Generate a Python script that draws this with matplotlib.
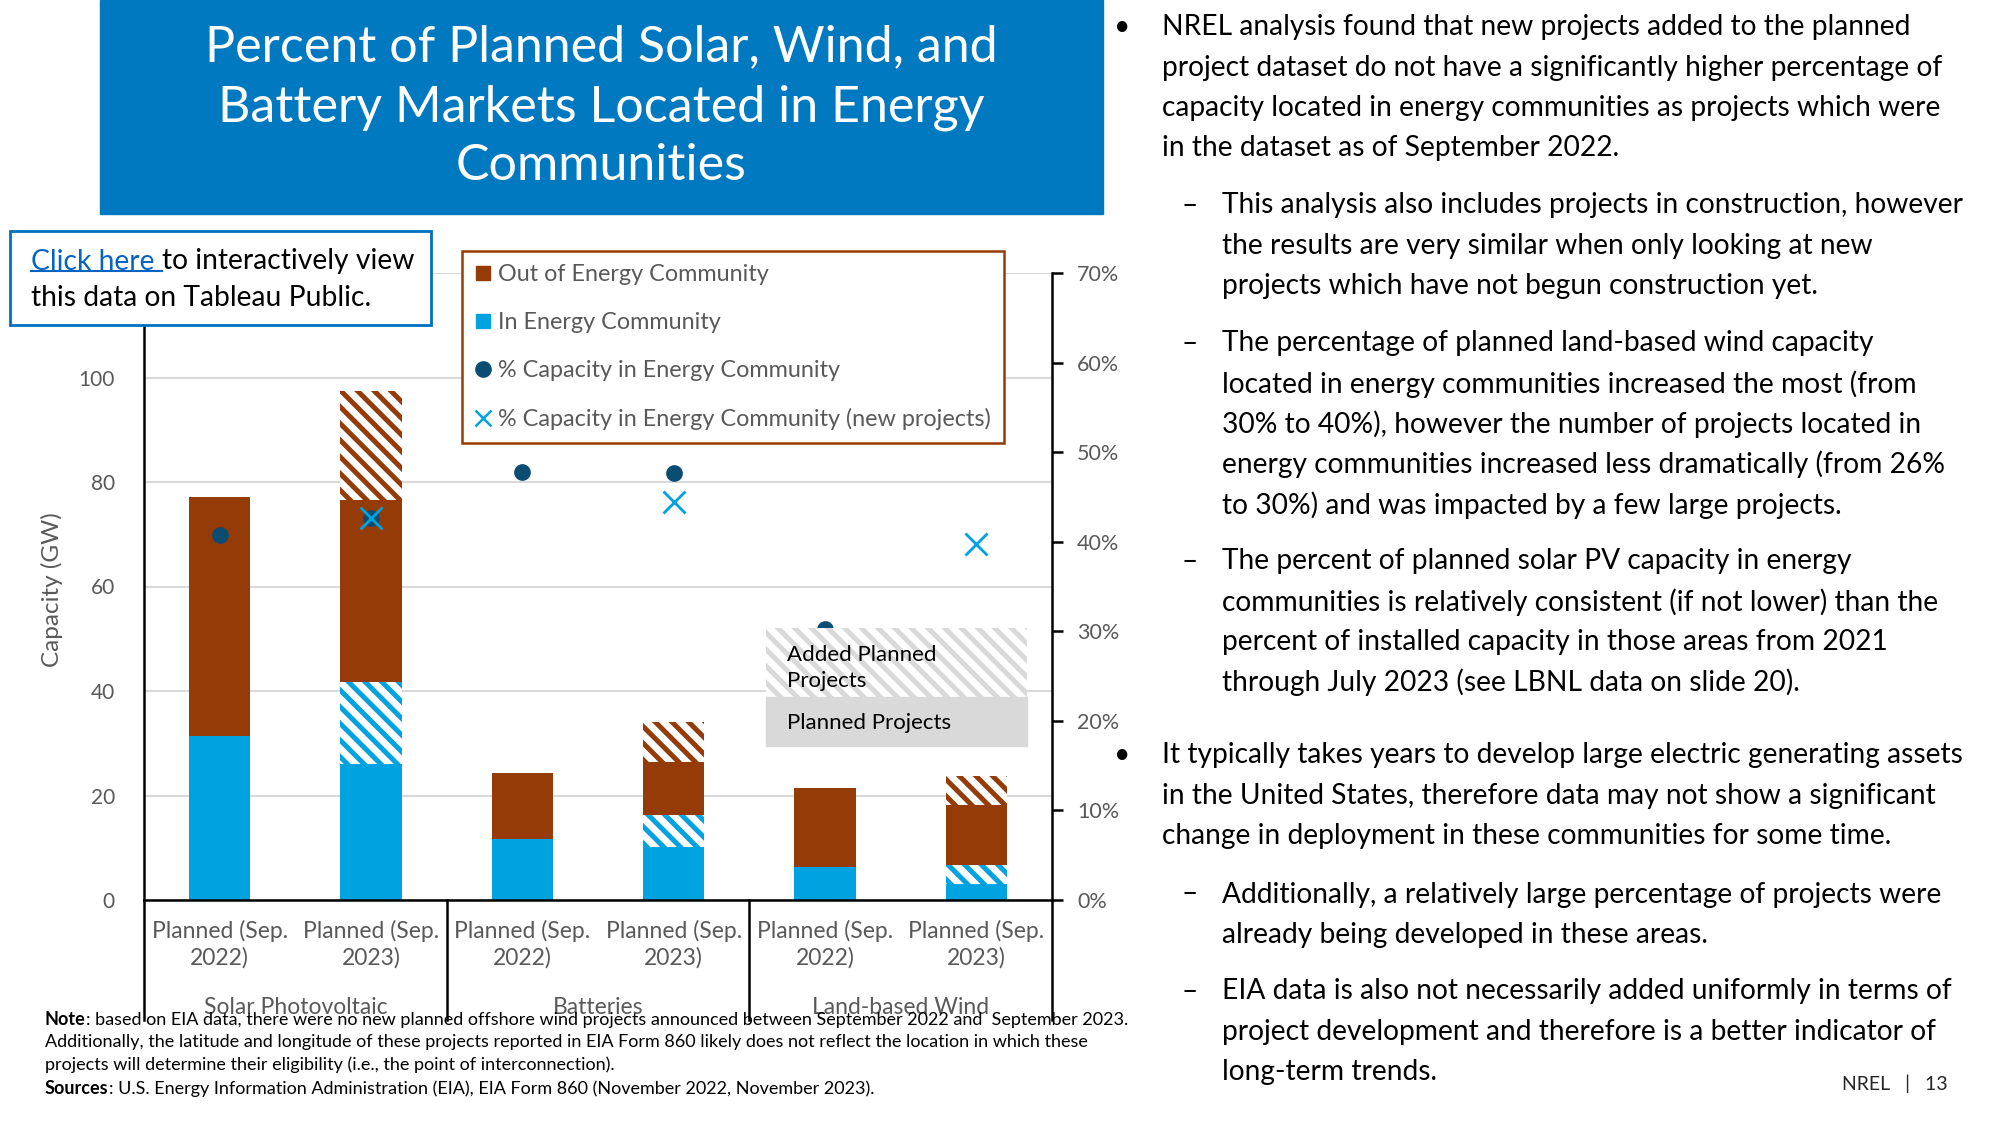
import numpy as np
import matplotlib.pyplot as plt
from matplotlib.patches import Rectangle
from matplotlib.lines import Line2D
from matplotlib.ticker import PercentFormatter
from matplotlib.transforms import blended_transform_factory

plt.rcParams['font.family'] = ['Lato', 'DejaVu Sans']
plt.rcParams['hatch.linewidth'] = 3.6

# ---- data: capacity in GW, share of capacity in energy communities ----
groups = ['Solar Photovoltaic', 'Batteries', 'Land-based Wind']
periods = ['Planned (Sep.\n2022)', 'Planned (Sep.\n2023)']
in_planned = np.array([31.3, 26.1, 11.6, 10.1, 6.3, 3.0])
in_added = np.array([0, 15.6, 0, 6.1, 0, 3.7])
out_planned = np.array([45.9, 34.8, 12.8, 10.3, 15.2, 11.5])
out_added = np.array([0, 20.9, 0, 7.6, 0, 5.6])
pct_ec = [0.408, 0.427, 0.478, 0.477, 0.303, np.nan]
pct_ec_new = [np.nan, 0.427, np.nan, 0.444, np.nan, 0.398]
left_ticks = [0, 20, 40, 60, 80, 100, 120]

legend_labels = ['Out of Energy Community', 'In Energy Community',
                 '% Capacity in Energy Community',
                 '% Capacity in Energy Community (new projects)']

title_lines = ['Percent of Planned Solar, Wind, and',
               'Battery Markets Located in Energy',
               'Communities']

# (indent level, lines)
bullets = [
    (0, ['NREL analysis found that new projects added to the planned',
         'project dataset do not have a significantly higher percentage of',
         'capacity located in energy communities as projects which were',
         'in the dataset as of September 2022.']),
    (1, ['This analysis also includes projects in construction, however',
         'the results are very similar when only looking at new',
         'projects which have not begun construction yet.']),
    (1, ['The percentage of planned land-based wind capacity',
         'located in energy communities increased the most (from',
         '30% to 40%), however the number of projects located in',
         'energy communities increased less dramatically (from 26%',
         'to 30%) and was impacted by a few large projects.']),
    (1, ['The percent of planned solar PV capacity in energy',
         'communities is relatively consistent (if not lower) than the',
         'percent of installed capacity in those areas from 2021',
         'through July 2023 (see LBNL data on slide 20).']),
    (0, ['It typically takes years to develop large electric generating assets',
         'in the United States, therefore data may not show a significant',
         'change in deployment in these communities for some time.']),
    (1, ['Additionally, a relatively large percentage of projects were',
         'already being developed in these areas.']),
    (1, ['EIA data is also not necessarily added uniformly in terms of',
         'project development and therefore is a better indicator of',
         'long-term trends.']),
]
bullet_top = [25, 203, 341, 559, 753, 892, 989]   # px from top

note_lines = [('Note', ': based on EIA data, there were no new planned offshore wind projects '
                       'announced between September 2022 and  September 2023.'),
              ('', 'Additionally, the latitude and longitude of these projects reported in EIA '
                   'Form 860 likely does not reflect the location in which these'),
              ('', 'projects will determine their eligibility (i.e., the point of interconnection).'),
              ('Sources', ': U.S. Energy Information Administration (EIA), EIA Form 860 '
                          '(November 2022, November 2023).')]

BROWN = '#943B08'
BLUE = '#00A3E0'
NAVY = '#0B4C72'
GRAY = '#595959'
GRID = '#D9D9D9'

W, H = 2000, 1125
fig = plt.figure(figsize=(20, 11.25), dpi=100)
renderer = fig.canvas.get_renderer()


def fx(px):
    return px / W


def fy(py):
    return 1 - py / H


def fit(t, width_px):
    w = t.get_window_extent(renderer).width
    t.set_fontsize(t.get_fontsize() * width_px / w)
    return t.get_fontsize()


# title banner
fig.add_artist(Rectangle((fx(100), fy(214)), fx(1003), 214 / H,
                         transform=fig.transFigure, color='#0079C1', zorder=1))
ts = None
for i, (line, y) in enumerate(zip(title_lines, [43, 103, 162])):
    t = fig.text(fx(601), fy(y), line, ha='center', va='center_baseline',
                 color='white', fontsize=30)
    if ts is None:
        ts = fit(t, 792)
    t.set_fontsize(ts)

# ---- chart ----
ax = fig.add_axes([fx(144), fy(900), fx(908), 627 / H])
x = np.arange(6)
bw = 0.405
ax.bar(x, in_planned, bw, color=BLUE, zorder=2)
ax.bar(x, in_added, bw, bottom=in_planned, facecolor='white', edgecolor=BLUE,
       hatch='\\\\', linewidth=0, zorder=2)
base = in_planned + in_added
ax.bar(x, out_planned, bw, bottom=base, color=BROWN, zorder=2)
ax.bar(x, out_added, bw, bottom=base + out_planned, facecolor='white',
       edgecolor=BROWN, hatch='\\\\', linewidth=0, zorder=2)

ax.set_xlim(-0.5, 5.5)
ax.set_ylim(0, 120)
# the 120 label sits under the "Click here" box in the slide
ax.set_yticks(left_ticks, [str(v) if v < 120 else '' for v in left_ticks])
ax.grid(axis='y', color=GRID, lw=1.5)
ax.set_axisbelow(True)
for s in ['top', 'right']:
    ax.spines[s].set_visible(False)
for s in ['left', 'bottom']:
    ax.spines[s].set_color('black')
    ax.spines[s].set_linewidth(1.8)
ax.tick_params(axis='y', length=0, pad=21, labelcolor=GRAY, labelsize=15)
ax.set_xticks(x, periods * 3)
ax.tick_params(axis='x', length=0, pad=14, labelcolor=GRAY, labelsize=16.5)
for lbl in ax.get_xticklabels():
    lbl.set_linespacing(1.3)

trans = blended_transform_factory(ax.transData, ax.transAxes)
for xs in [-0.5, 1.5, 3.5, 5.5]:
    ax.plot([xs, xs], [0, -0.191], transform=trans, color='black', lw=1.8,
            clip_on=False)
for i, g in enumerate(groups):
    ax.text(2 * i + 0.5, -0.171, g, transform=trans, ha='center', va='center',
            color=GRAY, fontsize=16.5)

ax2 = ax.twinx()
ax2.set_ylim(0, 0.7)
ax2.set_yticks(np.arange(0, 0.71, 0.1))
ax2.yaxis.set_major_formatter(PercentFormatter(1.0, decimals=0))
for s in ['top', 'left', 'bottom']:
    ax2.spines[s].set_visible(False)
ax2.spines['right'].set_color('black')
ax2.spines['right'].set_linewidth(1.8)
ax2.tick_params(axis='y', direction='out', length=8, width=1.8, pad=10,
                labelcolor=GRAY, labelsize=15.5)
ax2.plot(x, pct_ec, 'o', color=NAVY, ms=11, ls='none', zorder=3)
ax2.plot(x, pct_ec_new, 'x', color=BLUE, ms=16, mew=2, ls='none', zorder=4)

fig.text(fx(52), fy(590), 'Capacity (GW)', rotation=90, ha='center',
         va='center', color=GRAY, fontsize=17.5)

# legend
handles = [Line2D([], [], marker='s', color=BROWN, ls='none', ms=10),
           Line2D([], [], marker='s', color=BLUE, ls='none', ms=10),
           Line2D([], [], marker='o', color=NAVY, ls='none', ms=11),
           Line2D([], [], marker='x', color=BLUE, ls='none', ms=12, mew=1.8)]
leg = fig.legend(handles, legend_labels, loc='upper left',
                 bbox_to_anchor=(fx(462), fy(251)), fontsize=16.8,
                 labelcolor=GRAY, frameon=True, fancybox=False,
                 edgecolor=BROWN, framealpha=1, labelspacing=1.16,
                 handlelength=0.7, handletextpad=0.3, borderpad=0.55,
                 borderaxespad=0)
leg.get_frame().set_linewidth(1.8)
leg.set_zorder(6)

# hatched / solid key box
fig.add_artist(Rectangle((fx(766), fy(697)), fx(261), 69 / H,
                         transform=fig.transFigure, facecolor='white',
                         edgecolor=GRID, hatch='\\\\', linewidth=0, zorder=6))
fig.add_artist(Rectangle((fx(766), fy(746)), fx(261), 49 / H,
                         transform=fig.transFigure, color=GRID, zorder=6))
fig.text(fx(787), fy(668), 'Added Planned\nProjects', ha='left', va='center',
         fontsize=16, linespacing=1.4, zorder=7)
fig.text(fx(787), fy(721), 'Planned Projects', ha='left', va='center_baseline',
         fontsize=16, zorder=7)

# click-here box
fig.add_artist(Rectangle((fx(10), fy(325)), fx(421), 94 / H,
                         transform=fig.transFigure, facecolor='white',
                         edgecolor='#0070C0', linewidth=2, zorder=6))
l2 = fig.text(fx(31), fy(296), 'this data on Tableau Public.', ha='left',
              va='center_baseline', fontsize=18, color='black', zorder=7)
cs = fit(l2, 339)
c1 = fig.text(fx(31), fy(259), 'Click here ', ha='left', va='center_baseline',
              fontsize=cs, color='#0563C1', zorder=7)
bb = c1.get_window_extent(renderer)
fig.text(bb.x1 / W, fy(259), 'to interactively view', ha='left',
         va='center_baseline', fontsize=cs, color='black', zorder=7)
fig.add_artist(Line2D([bb.x0 / W, bb.x1 / W], [fy(271), fy(271)],
                      transform=fig.transFigure, color='#0563C1', lw=1.5,
                      zorder=7))

# right-hand bullets
probe = fig.text(0, 0, bullets[4][1][0], fontsize=20)
bs = fit(probe, 800)
probe.remove()
step = 40.3
for (level, lines), top in zip(bullets, bullet_top):
    mark_x, text_x = (1122, 1162) if level == 0 else (1190, 1222)
    fig.text(fx(mark_x), fy(top), '•' if level == 0 else '–', ha='center',
             va='center_baseline', fontsize=bs, color='black')
    for k, line in enumerate(lines):
        fig.text(fx(text_x), fy(top + k * step), line, ha='left',
                 va='center_baseline', fontsize=bs, color='black')

# notes
probe = fig.text(0, 0, ''.join(note_lines[0]), fontsize=12)
ns = fit(probe, 1083)
probe.remove()
for (bold, rest), y in zip(note_lines, [1018, 1041, 1063, 1087]):
    x0 = 45
    if bold:
        b = fig.text(fx(x0), fy(y), bold, ha='left', va='center_baseline',
                     fontsize=ns, fontweight='bold', zorder=5)
        x0 = b.get_window_extent(renderer).x1
    fig.text(fx(x0), fy(y), rest, ha='left', va='center_baseline',
             fontsize=ns, zorder=5)

fig.text(fx(1948), fy(1082), 'NREL   |   13', ha='right', va='center_baseline',
         fontsize=14, color='#262626')

fig.savefig('out.png', dpi=100)
